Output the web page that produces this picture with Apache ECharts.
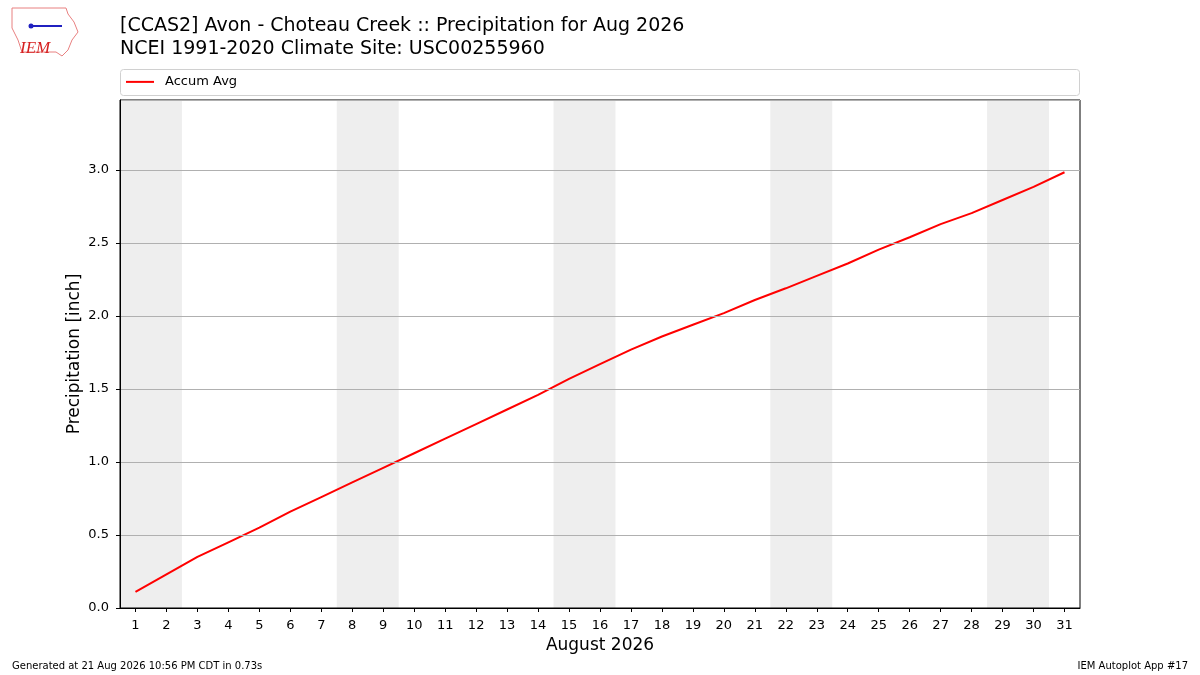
<html>
<head>
    <script src="https://cdn.jsdelivr.net/npm/echarts@6/dist/echarts.min.js"></script>
    <style>
        body { margin: 0; background: #fff; }
    </style>
</head>
<body>
<div id="precipChart" style="width: 1200px;height:675px;"></div>

<script type="text/javascript">

// August 2026 days
var days = [];
for (var d = 1; d <= 31; d++) {
    days.push(String(d));
}

// accumulated average precipitation (inch)
var accumAvg = [0.11, 0.23, 0.35, 0.45, 0.55, 0.66, 0.76, 0.86, 0.96, 1.06,
                1.16, 1.26, 1.36, 1.46, 1.57, 1.67, 1.77, 1.86, 1.94, 2.02,
                2.11, 2.19, 2.275, 2.36, 2.455, 2.54, 2.63, 2.705, 2.795, 2.885,
                2.985];

// weekends (Sat-Sun) in Aug 2026, as [first day, last day]
var weekends = [[1, 2], [8, 9], [15, 16], [22, 23], [29, 30]];

var yMax = 3.48;
var font = 'DejaVu Sans';

// grey bands cover the whole day cell, so half a day either side
var weekendAreas = weekends.map(function (w) {
    return [{ xAxis: w[0] - 0.5 }, { xAxis: w[1] + 0.5 }];
});

var option = {
    animation: false,
    textStyle: { fontFamily: font },
    title: {
        text: '[CCAS2] Avon - Choteau Creek :: Precipitation for Aug 2026\nNCEI 1991-2020 Climate Site: USC00255960',
        left: 115,
        top: 10,
        textStyle: {
            fontFamily: font,
            fontSize: 19,
            fontWeight: 'normal',
            color: '#000',
            lineHeight: 23
        }
    },
    legend: {
        data: ['Accum Avg'],
        left: 126,
        top: 69,
        padding: 0,
        itemWidth: 28,
        itemHeight: 2,
        icon: 'rect',
        textStyle: { fontFamily: font, fontSize: 13, color: '#000', padding: [0, 0, 0, 6] }
    },
    grid: {
        left: 120,
        right: 120,
        top: 100,
        bottom: 67,
        outerBoundsMode: 'none',
        containLabel: false,
        show: true,
        borderColor: '#000',
        borderWidth: 1,
        backgroundColor: 'transparent',
        z: 10
    },
    xAxis: [
        {
            type: 'category',
            data: days,
            boundaryGap: true,
            name: 'August 2026',
            nameLocation: 'middle',
            nameGap: 21,
            nameMoveOverlap: false,
            nameTextStyle: { fontFamily: font, fontSize: 17, color: '#000' },
            axisLine: { lineStyle: { color: '#000' } },
            axisTick: { show: true, alignWithLabel: true, length: 4, lineStyle: { color: '#000' } },
            axisLabel: { fontFamily: font, fontSize: 13, color: '#000', margin: 5, interval: 0 },
            splitLine: { show: false },
            z: 10
        },
        {
            // hidden day scale used to place the weekend bands
            type: 'value',
            min: 0.5,
            max: 31.5,
            show: false
        }
    ],
    yAxis: {
        type: 'value',
        min: 0,
        max: yMax,
        interval: 0.5,
        name: 'Precipitation [inch]',
        nameLocation: 'middle',
        nameGap: 29,
        nameMoveOverlap: false,
        nameTextStyle: { fontFamily: font, fontSize: 17, color: '#000' },
        axisLine: { show: true, lineStyle: { color: '#000' } },
        axisTick: { show: true, length: 4, lineStyle: { color: '#000' } },
        axisLabel: {
            fontFamily: font,
            fontSize: 13,
            color: '#000',
            margin: 11,
            showMaxLabel: false,
            formatter: function (v) { return v.toFixed(1); }
        },
        splitLine: { show: true, lineStyle: { color: '#b0b0b0', width: 1 } },
        z: 10
    },
    series: [
        {
            name: 'weekend',
            type: 'line',
            xAxisIndex: 1,
            data: [],
            silent: true,
            z: 0,
            markArea: {
                silent: true,
                itemStyle: { color: '#eeeeee' },
                data: weekendAreas
            }
        },
        {
            name: 'Accum Avg',
            type: 'line',
            data: accumAvg,
            showSymbol: false,
            lineStyle: { color: '#ff0000', width: 2 },
            itemStyle: { color: '#ff0000' },
            z: 5
        }
    ],
    graphic: [
        // legend frame spanning the plot width
        {
            type: 'rect',
            shape: { x: 120.5, y: 69.5, width: 959, height: 26, r: 3 },
            style: { fill: 'none', stroke: '#d0d0d0', lineWidth: 1 },
            z: -1
        },
        // rough IEM logo
        {
            type: 'polyline',
            shape: {
                points: [[12, 8], [66, 8], [68, 14], [74, 22], [78, 32], [72, 40],
                         [68, 50], [62, 56], [56, 52], [22, 52], [18, 40], [12, 28], [12, 8]]
            },
            style: { stroke: '#e88080', fill: 'none', lineWidth: 1 }
        },
        {
            type: 'polyline',
            shape: { points: [[30, 26], [62, 26]] },
            style: { stroke: '#2020c0', lineWidth: 2 }
        },
        {
            type: 'circle',
            shape: { cx: 31, cy: 26, r: 2.5 },
            style: { fill: '#2020c0' }
        },
        {
            type: 'text',
            left: 20,
            top: 35,
            style: {
                text: 'IEM',
                fill: '#d62020',
                font: 'italic 17px "Liberation Serif"'
            }
        },
        // footer
        {
            type: 'text',
            left: 12,
            top: 656,
            style: { text: 'Generated at 21 Aug 2026 10:56 PM CDT in 0.73s', fill: '#000', font: '10px "DejaVu Sans"' }
        },
        {
            type: 'text',
            right: 12,
            top: 656,
            style: { text: 'IEM Autoplot App #17', fill: '#000', font: '10px "DejaVu Sans"' }
        }
    ]
};

var precipChart = echarts.init(document.getElementById('precipChart'));
precipChart.setOption(option);

</script>
</body>
</html>
